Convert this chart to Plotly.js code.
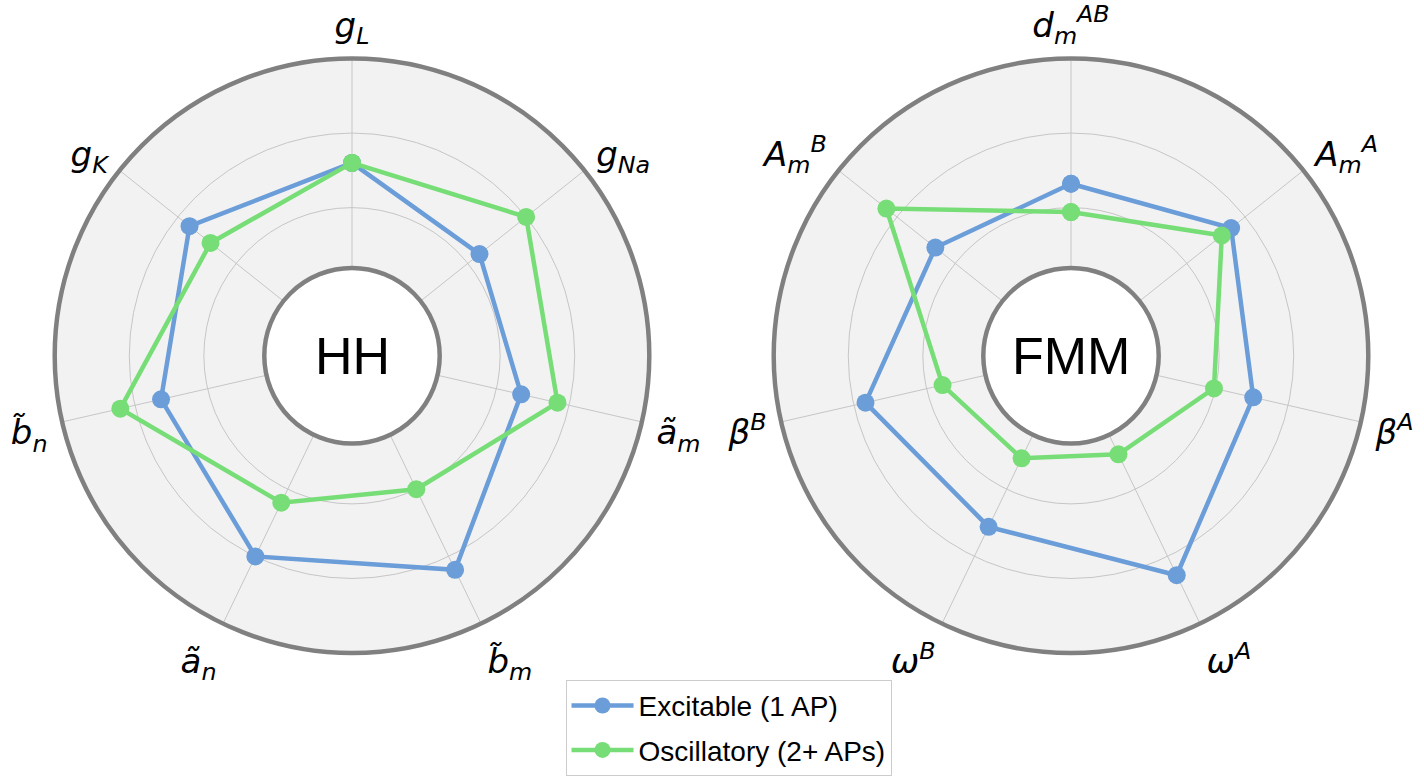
<!DOCTYPE html>
<html>
<head>
<meta charset="utf-8">
<script src="https://cdn.plot.ly/plotly-3.0.1.min.js"></script>
<style>html,body{margin:0;padding:0;background:#fff;}#chart{width:1424px;height:776px;}</style>
</head>
<body>
<div id="chart"></div>
<script>
// ---- data ----
const hhLabels = ["<i>g<sub>L</sub></i>", "<i>g<sub>Na</sub></i>", "<i>ã<sub>m</sub></i>", "<i>b̃<sub>m</sub></i>", "<i>ã<sub>n</sub></i>", "<i>b̃<sub>n</sub></i>", "<i>g<sub>K</sub></i>"];
const hhExcitable   = [0.65, 0.55, 0.585, 0.80, 0.75, 0.66, 0.70];
const hhOscillatory = [0.65, 0.75, 0.71, 0.50, 0.55, 0.80, 0.61];

const fmmLabels = ["<i>d<sub>m</sub><sup>AB</sup></i>", "<i>A<sub>m</sub><sup>A</sup></i>", "<i>β<sup>A</sup></i>", "<i>ω<sup>A</sup></i>", "<i>ω<sup>B</sup></i>", "<i>β<sup>B</sup></i>", "<i>A<sub>m</sub><sup>B</sup></i>"];
const fmmExcitable   = [0.58, 0.69, 0.63, 0.82, 0.64, 0.71, 0.585];
const fmmOscillatory = [0.485, 0.65, 0.495, 0.37, 0.385, 0.445, 0.795];

const seriesNames = ["Excitable (1 AP)", "Oscillatory (2+ APs)"];
const centerTitles = ["HH", "FMM"];
const radialTicks = [0.5, 0.75];
const radialRange = [0.2974, 1.0];

// ---- style ----
const BLUE = "#6b9dd9", GREEN = "#77dd77";
const W = 1424, H = 776;
const R = 300, HOLE_R = 88.5, CY = 359;
const CX = [352, 1071];

function dom(cx, cy, r) {
  return {x: [(cx - r) / W, (cx + r) / W], y: [1 - (cy + r) / H, 1 - (cy - r) / H]};
}
function closed(a) { return a.concat([a[0]]); }

function trace(r, theta, name, color, sub, show) {
  return {
    type: "scatterpolar", mode: "lines+markers",
    r: closed(r), theta: closed(theta), subplot: sub,
    name: name, legendgroup: name, showlegend: show,
    line: {color: color, width: 4.5},
    marker: {color: color, size: 18},
    hoverinfo: "skip"
  };
}

const data = [
  trace(hhExcitable, hhLabels, seriesNames[0], BLUE, "polar", true),
  trace(hhOscillatory, hhLabels, seriesNames[1], GREEN, "polar", true),
  trace(fmmExcitable, fmmLabels, seriesNames[0], BLUE, "polar2", false),
  trace(fmmOscillatory, fmmLabels, seriesNames[1], GREEN, "polar2", false)
];

function mainPolar(cx) {
  return {
    domain: dom(cx, CY, R),
    hole: HOLE_R / R,
    bgcolor: "#f2f2f2",
    radialaxis: {
      range: radialRange, tickvals: radialTicks, showticklabels: false, ticks: "",
      showline: false, gridcolor: "#c6c6c6", gridwidth: 1, angle: 90
    },
    angularaxis: {
      direction: "clockwise", rotation: 90,
      linecolor: "#808080", linewidth: 4.5, showline: true,
      gridcolor: "#c6c6c6", gridwidth: 1,
      ticks: "outside", ticklen: 6, tickcolor: "rgba(0,0,0,0)",
      tickfont: {family: "DejaVu Sans", size: 34, color: "#000"}
    }
  };
}
function holePolar(cx) {
  return {
    domain: dom(cx, CY, HOLE_R),
    bgcolor: "#ffffff",
    radialaxis: {visible: false},
    angularaxis: {
      showline: true, linecolor: "#808080", linewidth: 4.5,
      showgrid: false, showticklabels: false, ticks: ""
    }
  };
}

const layout = {
  width: W, height: H,
  margin: {l: 0, r: 0, t: 0, b: 0},
  paper_bgcolor: "#ffffff",
  showlegend: true,
  polar: mainPolar(CX[0]),
  polar2: mainPolar(CX[1]),
  polar3: holePolar(CX[0]),
  polar4: holePolar(CX[1]),
  legend: {
    x: 0.5116, y: 1 - 686 / H, xanchor: "center", yanchor: "top",
    bgcolor: "#ffffff", bordercolor: "#cccccc", borderwidth: 1,
    font: {family: "Liberation Sans, Arial", size: 28, color: "#000"},
    itemwidth: 62, tracegroupgap: 5
  },
  annotations: centerTitles.map((t, i) => ({
    text: t, showarrow: false, xref: "paper", yref: "paper",
    x: CX[i] / W, y: 1 - CY / H, xanchor: "center", yanchor: "middle",
    font: {family: "Liberation Sans, Arial", size: 52, color: "#000"}
  }))
};

Plotly.newPlot("chart", data, layout, {displayModeBar: false, staticPlot: true});
</script>
</body>
</html>
